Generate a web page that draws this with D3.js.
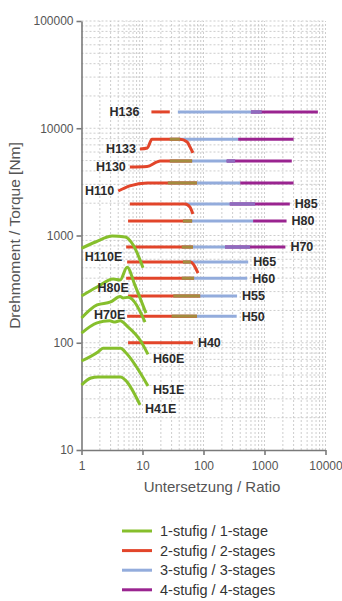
<!DOCTYPE html>
<html>
<head>
<meta charset="utf-8">
<script src="https://cdn.jsdelivr.net/npm/d3@7"></script>
<style>
  body { margin: 0; background: #fff; }
  svg { font-family: "Liberation Sans", Arial, sans-serif; }
</style>
</head>
<body>
<svg width="342" height="601"></svg>
<script>
// Gear units with 2/3/4 stages (ratio ranges at rated torque)
const gears = ["H136", "H133", "H130", "H110", "H85", "H80", "H70", "H65", "H60", "H55", "H50", "H40"];
const gearTorque = [14200, 7900, 4950, 3090, 1970, 1365, 780, 566, 400, 273, 177, 100];

// 2-stage curves (ratio / torque points)
const stage2Ratio = [
  [14, 28], [9.1, 12, 14.3, 41, 54, 60, 67], [6.2, 11.9, 17.3, 19.4, 65], [4, 6.2, 11.9, 78],
  [6.2, 50, 60, 67], [5.8, 65], [5.4, 67], [5.6, 62, 68, 73, 81],
  [5.4, 70], [5.8, 88], [5.6, 78], [5.8, 67]
];
const stage2Torque = [
  [14200, 14200], [6400, 6550, 7900, 7900, 7450, 6700, 5900], [4350, 4400, 4850, 4950, 4950], [2600, 2900, 3090, 3090],
  [1970, 1970, 1840, 1590], [1365, 1365], [780, 780], [566, 566, 540, 505, 447],
  [400, 400], [273, 273], [177, 177], [100, 100]
];

// 3-stage and 4-stage ratio ranges
const stage3From = [38, 28, 28, 26, 50, 46, 44, 46, 44, 32, 30, null];
const stage3To = [900, 370, 330, 400, 700, 650, 580, 540, 520, 355, 350, null];
const stage4From = [600, 370, 240, 400, 270, 650, 225, null, null, null, null, null];
const stage4To = [7500, 3000, 2800, 3000, 2600, 2300, 2200, null, null, null, null, null];

// 1-stage units
const singles = ["H110E", "H80E", "H70E", "H60E", "H51E", "H41E"];
const singleRatio = [
  [1, 1.7, 3.2, 5.2, 7, 10.2],
  [1, 1.8, 3.3, 4.3, 5.6, 7.5, 11.4],
  [1, 1.8, 3, 4.3, 4.8, 5.8, 11],
  [1, 1.8, 2.9, 3.4, 4.3, 5.8, 9.1, 12.3],
  [1, 1.86, 2.25, 4.4, 5.2, 12.3],
  [1, 1.43, 1.86, 4.4, 5.2, 9.1]
];
const singleTorque = [
  [760, 870, 990, 970, 820, 500],
  [273, 331, 393, 385, 505, 345, 189],
  [170, 225, 240, 270, 262, 265, 156],
  [123, 153, 160, 156, 160, 140, 106, 78],
  [67.6, 82, 89, 89, 82, 39.5],
  [40.4, 46.9, 48, 48, 45, 26.3]
];

const xTicks = [1, 10, 100, 1000, 10000];
const yTicks = [10, 100, 1000, 10000, 100000];
const legendLabels = ["1-stufig / 1-stage", "2-stufig / 2-stages", "3-stufig / 3-stages", "4-stufig / 4-stages"];

// label layout
const gearLabelSide = ["left", "left", "left", "left", "right", "right", "right", "right", "right", "right", "right", "right"];
const singleLabelAt = [[2.3, 630], [3.3, 324], [2.9, 181], null, null, null];

const colors = { s1: "#86bf2c", s2: "#e2452a", s3: "#93acdc", s4: "#9a2490", mix23: "#a48c3e", mix34: "#8e6cbf" };

const svg = d3.select("svg");
const x = d3.scaleLog().domain([1, 10000]).range([81.5, 325.5]);
const y = d3.scaleLog().domain([10, 100000]).range([450, 21]);

// grid
const grid = svg.append("g").attr("stroke", "#c0c0c0").attr("stroke-width", 0.8).attr("stroke-dasharray", "2,2");
const minor = d => d3.range(0, 9).flatMap(i => d.slice(0, -1).map(v => v * (i + 1))).concat([d[d.length - 1]]);
minor(xTicks).filter(v => v > 1).forEach(v => {
  grid.append("line").attr("x1", x(v)).attr("x2", x(v)).attr("y1", y(10)).attr("y2", y(100000));
});
minor(yTicks).filter(v => v > 10).forEach(v => {
  grid.append("line").attr("x1", x(1)).attr("x2", x(10000)).attr("y1", y(v)).attr("y2", y(v));
});

// axes
const yAxis = svg.append("g").attr("transform", `translate(${x(1)},0)`)
  .call(d3.axisLeft(y).tickValues(yTicks).tickFormat(d3.format("d")).tickSize(5).tickSizeOuter(0));
const xAxis = svg.append("g").attr("transform", `translate(0,${y(10)})`)
  .call(d3.axisBottom(x).tickValues(xTicks).tickFormat(d3.format("d")).tickSize(5).tickSizeOuter(0));
[xAxis, yAxis].forEach(a => {
  a.selectAll("path, line").attr("stroke", "#7a7a7a").attr("stroke-width", 1.6);
  a.selectAll("text").attr("fill", "#555").style("font-size", "12px");
});
yAxis.selectAll("text").attr("x", -8);
xAxis.selectAll("text").attr("y", 11);

svg.append("text").attr("x", 212).attr("y", 492).attr("text-anchor", "middle")
  .attr("fill", "#555").style("font-size", "15px").text("Untersetzung / Ratio");
svg.append("text").attr("transform", `translate(20,${(y(10) + y(100000)) / 2}) rotate(-90)`)
  .attr("text-anchor", "middle").attr("fill", "#555").style("font-size", "15.5px").text("Drehmoment / Torque [Nm]");

const line = d3.line().x(d => x(d[0])).y(d => y(d[1])).curve(d3.curveMonotoneX);
const marks = svg.append("g").attr("fill", "none").attr("stroke-width", 3);

function seg(from, to, t, color) {
  marks.append("path").attr("d", line([[from, t], [to, t]])).attr("stroke", color);
}

gears.forEach((g, i) => {
  const t = gearTorque[i];
  const pts2 = stage2Ratio[i].map((r, j) => [r, stage2Torque[i][j]]);
  if (stage3From[i] != null) seg(stage3From[i], stage3To[i], t, colors.s3);
  if (stage4From[i] != null) seg(stage4From[i], stage4To[i], t, colors.s4);
  marks.append("path").attr("d", line(pts2)).attr("stroke", colors.s2);
  // overlaps
  if (stage3From[i] != null) {
    const flat = pts2.filter(p => p[1] >= 0.97 * t);
    const redEnd = flat[flat.length - 1][0];
    const a = Math.max(stage3From[i], pts2[0][0]), b = Math.min(stage3To[i], redEnd);
    if (b > a) seg(a, b, t, colors.mix23);
  }
  if (stage4From[i] != null) {
    const a = stage4From[i], b = Math.min(stage3To[i], stage4To[i]);
    if (b > a) seg(a, b, t, colors.mix34);
  }
});

singles.forEach((s, i) => {
  const pts = singleRatio[i].map((r, j) => [r, singleTorque[i][j]]);
  marks.append("path").attr("d", line(pts)).attr("stroke", colors.s1);
});

// labels
const labels = svg.append("g").attr("fill", "#2a2a2a").style("font-size", "12.5px").style("font-weight", "bold");
gears.forEach((g, i) => {
  if (gearLabelSide[i] === "left") {
    const gap = i === 0 ? 12 : 4;
    labels.append("text").attr("x", x(stage2Ratio[i][0]) - gap).attr("y", y(stage2Torque[i][0]))
      .attr("dy", "0.35em").attr("text-anchor", "end").text(g);
  } else {
    const end = d3.max([stage2Ratio[i][stage2Ratio[i].length - 1], stage3To[i] || 0, stage4To[i] || 0]);
    labels.append("text").attr("x", x(end) + 5).attr("y", y(gearTorque[i]))
      .attr("dy", "0.35em").text(g);
  }
});
singles.forEach((s, i) => {
  if (singleLabelAt[i]) {
    labels.append("text").attr("x", x(singleLabelAt[i][0])).attr("y", y(singleLabelAt[i][1]))
      .attr("dy", "0.35em").attr("text-anchor", "middle").text(s);
  } else {
    const n = singleRatio[i].length - 1;
    labels.append("text").attr("x", x(singleRatio[i][n]) + 5).attr("y", y(singleTorque[i][n]) + 4)
      .attr("dy", "0.35em").text(s);
  }
});

// legend
const legendColors = [colors.s1, colors.s2, colors.s3, colors.s4];
const legend = svg.append("g").attr("transform", "translate(122,531)");
legendLabels.forEach((l, i) => {
  const row = legend.append("g").attr("transform", `translate(0,${i * 19.6})`);
  row.append("line").attr("x1", 0).attr("x2", 30).attr("stroke", legendColors[i]).attr("stroke-width", 3);
  row.append("text").attr("x", 38).attr("dy", "0.35em").attr("fill", "#333").style("font-size", "14.5px").text(l);
});
</script>
</body>
</html>
